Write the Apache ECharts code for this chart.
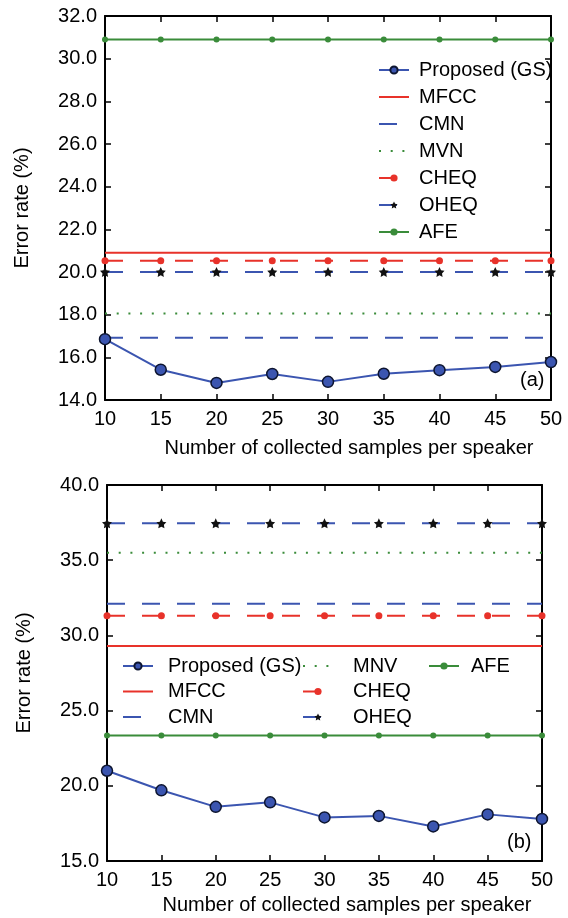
<!DOCTYPE html>
<html>
<head>
<meta charset="utf-8">
<script src="https://cdn.jsdelivr.net/npm/echarts@6/dist/echarts.min.js"></script>
<style>
  html, body { margin: 0; padding: 0; background: #fff; }
  #main { width: 568px; height: 918px; }
</style>
</head>
<body>
<div id="main"></div>
<script>
// samples per speaker (x axis)
var samples = [10, 15, 20, 25, 30, 35, 40, 45, 50];

// (a) top panel
var proposedA = [16.85, 15.42, 14.8, 15.22, 14.85, 15.23, 15.4, 15.55, 15.78];
var mfccA = [20.9, 20.9, 20.9, 20.9, 20.9, 20.9, 20.9, 20.9, 20.9];
var cmnA  = [16.92, 16.92, 16.92, 16.92, 16.92, 16.92, 16.92, 16.92, 16.92];
var mvnA  = [18.05, 18.05, 18.05, 18.05, 18.05, 18.05, 18.05, 18.05, 18.05];
var cheqA = [20.53, 20.53, 20.53, 20.53, 20.53, 20.53, 20.53, 20.53, 20.53];
var oheqA = [20.0, 20.0, 20.0, 20.0, 20.0, 20.0, 20.0, 20.0, 20.0];
var afeA  = [30.9, 30.9, 30.9, 30.9, 30.9, 30.9, 30.9, 30.9, 30.9];

// (b) bottom panel
var proposedB = [21.0, 19.7, 18.6, 18.9, 17.9, 18.0, 17.3, 18.1, 17.8];
var mfccB = [29.3, 29.3, 29.3, 29.3, 29.3, 29.3, 29.3, 29.3, 29.3];
var cmnB  = [32.1, 32.1, 32.1, 32.1, 32.1, 32.1, 32.1, 32.1, 32.1];
var mnvB  = [35.5, 35.5, 35.5, 35.5, 35.5, 35.5, 35.5, 35.5, 35.5];
var cheqB = [31.3, 31.3, 31.3, 31.3, 31.3, 31.3, 31.3, 31.3, 31.3];
var oheqB = [37.45, 37.45, 37.45, 37.45, 37.45, 37.45, 37.45, 37.45, 37.45];
var afeB  = [23.35, 23.35, 23.35, 23.35, 23.35, 23.35, 23.35, 23.35, 23.35];

var RED = '#e8322a', BLUE = '#3b55b0', GREEN = '#3a8c3a';
var FONT = 'Liberation Sans, Arial, sans-serif';
var STAR = 'path://M0,-10L2.94,-4.05L9.51,-3.09L4.76,1.55L5.88,8.09L0,5L-5.88,8.09L-4.76,1.55L-9.51,-3.09L-2.94,-4.05Z';
var NO_SYMBOL = ['MFCC', 'CMN', 'MVN', 'MNV'];

function pairs(vals) {
  return samples.map(function (x, i) { return [x, vals[i]]; });
}

function xAxes(grid, bottomGap, shift) {
  var common = {
    type: 'value', gridIndex: grid, min: 10, max: 50, interval: 5,
    splitLine: { show: false },
    axisLine: { onZero: false, lineStyle: { color: '#000', width: 2 } },
    axisTick: { inside: true, length: 6, lineStyle: { color: '#000', width: 1.5 } }
  };
  return [
    Object.assign({}, common, {
      position: 'bottom',
      axisLabel: { color: '#000', fontSize: 20, fontFamily: FONT, margin: 9 },
      name: 'Number of collected samples per speaker',
      nameLocation: 'middle', nameGap: bottomGap,
      nameTextStyle: { color: '#000', fontSize: 20, fontFamily: FONT, padding: [0, 0, 0, shift] }
    }),
    Object.assign({}, common, { position: 'top', axisLabel: { show: false } })
  ];
}

function yAxes(grid, min, max, step) {
  var common = {
    type: 'value', gridIndex: grid, min: min, max: max, interval: step,
    splitLine: { show: false },
    axisLine: { onZero: false, lineStyle: { color: '#000', width: 2 } },
    axisTick: { inside: true, length: 6, lineStyle: { color: '#000', width: 1.5 } }
  };
  return [
    Object.assign({}, common, {
      position: 'left',
      axisLabel: { color: '#000', fontSize: 20, fontFamily: FONT, margin: 8,
        formatter: function (v) { return v.toFixed(1); } },
      name: 'Error rate (%)', nameLocation: 'middle', nameGap: 73,
      nameTextStyle: { color: '#000', fontSize: 20, fontFamily: FONT }
    }),
    Object.assign({}, common, { position: 'right', axisLabel: { show: false } })
  ];
}

function panel(g, d, names) {
  var xi = g * 2, yi = g * 2;
  return [
    { name: names[6], type: 'line', xAxisIndex: xi, yAxisIndex: yi, data: pairs(d.afe),
      symbol: 'circle', symbolSize: 6, itemStyle: { color: GREEN },
      lineStyle: { color: GREEN, width: 2 }, z: 2 },
    { name: names[1], type: 'line', xAxisIndex: xi, yAxisIndex: yi, data: pairs(d.mfcc),
      symbol: 'none', itemStyle: { color: RED }, lineStyle: { color: RED, width: 2 }, z: 2 },
    { name: names[2], type: 'line', xAxisIndex: xi, yAxisIndex: yi, data: pairs(d.cmn),
      symbol: 'none', lineStyle: { color: BLUE, width: 2, type: [18, 17] }, itemStyle: { color: BLUE }, z: 2 },
    { name: names[3], type: 'line', xAxisIndex: xi, yAxisIndex: yi, data: pairs(d.mvn),
      symbol: 'none', lineStyle: { color: GREEN, width: 2, type: [2, 9.7] }, itemStyle: { color: GREEN }, z: 2 },
    { name: names[4], type: 'line', xAxisIndex: xi, yAxisIndex: yi, data: pairs(d.cheq),
      symbol: 'circle', symbolSize: 7, itemStyle: { color: RED },
      lineStyle: { color: RED, width: 2, type: [18, 17] }, z: 2 },
    { name: names[5], type: 'line', xAxisIndex: xi, yAxisIndex: yi, data: pairs(d.oheq),
      symbol: STAR, symbolSize: 10, itemStyle: { color: '#111' },
      lineStyle: { color: BLUE, width: 2, type: [18, 17] }, z: 2 },
    { name: names[0], type: 'line', xAxisIndex: xi, yAxisIndex: yi, data: pairs(d.proposed),
      symbol: 'circle', symbolSize: 11,
      itemStyle: { color: BLUE, borderColor: '#0d1530', borderWidth: 1.5 },
      lineStyle: { color: BLUE, width: 2 }, z: 5 }
  ];
}

var namesA = ['Proposed (GS)', 'MFCC', 'CMN', 'MVN', 'CHEQ', 'OHEQ', 'AFE'];
var namesB = ['Proposed (GS)', 'MFCC', 'CMN', 'MNV', 'CHEQ', 'OHEQ', 'AFE'];

function legendBox(names, left, top, gap, pad) {
  var data = names.map(function (n) {
    return NO_SYMBOL.indexOf(n) >= 0 ? { name: n, itemStyle: { opacity: 0 } } : { name: n };
  });
  return {
    data: data, orient: 'vertical', left: left, top: top,
    itemWidth: 30, itemHeight: 9, itemGap: gap, selectedMode: false,
    textStyle: { color: '#000', fontSize: 20, fontFamily: FONT, lineHeight: 20, padding: [0, 0, 0, pad] }
  };
}

var myChart = echarts.init(document.getElementById('main'));
var option = {
  animation: false,
  backgroundColor: '#fff',
  grid: [
    { left: 105, right: 17, top: 16, bottom: 518 },
    { left: 107, right: 26, top: 485, bottom: 57 }
  ],
  xAxis: xAxes(0, 38, 42).concat(xAxes(1, 34, 45)),
  yAxis: yAxes(0, 14, 32, 2).concat(yAxes(1, 15, 40, 5)),
  legend: [
    legendBox(namesA, 373, 55, 7, 5),
    legendBox(['Proposed (GS)', 'MFCC', 'CMN'], 117, 651, 5.5, 10),
    legendBox(['MNV', 'CHEQ', 'OHEQ'], 297, 651, 5.5, 15),
    legendBox(['AFE'], 423, 651, 5.5, 7)
  ],
  graphic: [
    { type: 'text', left: 520, top: 370, style: { text: '(a)', fontSize: 20, fontFamily: FONT, fill: '#000' } },
    { type: 'text', left: 507, top: 832, style: { text: '(b)', fontSize: 20, fontFamily: FONT, fill: '#000' } }
  ],
  series: panel(0, { proposed: proposedA, mfcc: mfccA, cmn: cmnA, mvn: mvnA, cheq: cheqA, oheq: oheqA, afe: afeA }, namesA)
    .concat(panel(1, { proposed: proposedB, mfcc: mfccB, cmn: cmnB, mvn: mnvB, cheq: cheqB, oheq: oheqB, afe: afeB }, namesB))
};
myChart.setOption(option);
</script>
</body>
</html>
